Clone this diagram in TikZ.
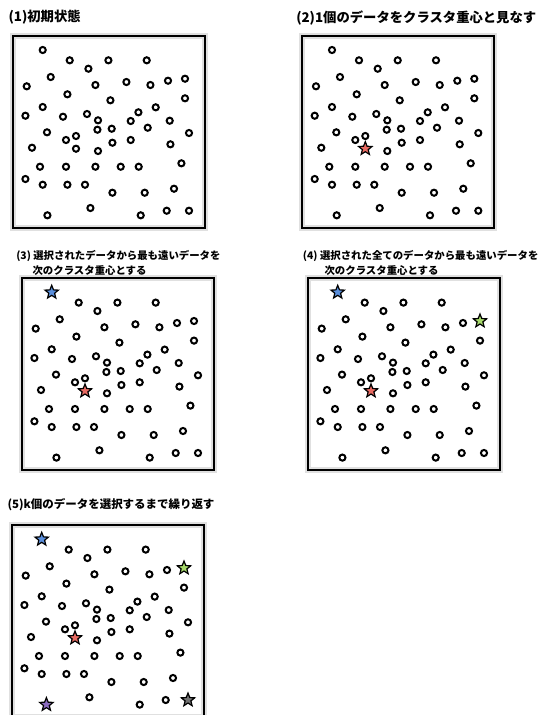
\documentclass[tikz,border=0pt]{standalone}
\usepackage{fontspec}
\usepackage{tikz}
\usetikzlibrary{shapes.geometric,shadows}
\newfontfamily\jpfont{Noto Sans CJK JP}[BoldFont={Noto Sans CJK JP Black}]
\definecolor{ClusterRed}{HTML}{E86A62}
\definecolor{ClusterBlue}{HTML}{5A8FDC}
\definecolor{ClusterGreen}{HTML}{A6D96A}
\definecolor{ClusterPurple}{HTML}{8B6BBE}
\definecolor{ClusterGrey}{HTML}{737373}

% data points, px from the top left corner of a field
\newcommand{\datapts}{30/14, 57/24.3, 75.7/32.7, 95.7/24.3, 134/24.3,
  38/41, 14/50.3, 82.7/49, 113.7/46, 137.7/49, 155.3/44.7, 172.3/42.7,
  54.7/58.3, 97.7/64.3, 172.3/62.3, 30/71, 12.7/79.7, 50.3/80.7, 74.3/78,
  85.3/84.3, 125.7/76.3, 143/71.3, 118/85, 157/84.7, 84.7/93.7, 99/92.7,
  135/91.7, 34.3/96.3, 63.3/100, 53.3/104, 176.3/97, 99.7/106.7, 118/104,
  19.3/111.7, 63.3/112.7, 85.3/115, 157.7/108.3, 27.3/130.7, 53.3/130.7,
  82.7/130.7, 108/130.7, 126/130.7, 168.7/127.3, 12.7/143, 30/148.7,
  54.7/148.7, 72.3/148.7, 99.7/156.7, 132/156.7, 161.3/152.7, 34.7/179.3,
  77.7/172, 128/179.3, 154/174.7, 176.3/174.7}

% #1 prefix, #2 indices replaced by stars
\newcommand{\datafield}[2]{%
  \draw[fieldhalo] (0,0) rectangle (192,192);
  \draw[fieldbox] (0,0) rectangle (192,192);
  \foreach \x/\y [count=\i] in \datapts {%
    \coordinate (#1-c\i) at (\x,\y);
    \def\isstar{0}%
    \foreach \s in {#2} {\ifnum\s=\i \gdef\isstar{1}\fi}%
    \ifnum\isstar=0 \node[datum] (#1-d\i) at (#1-c\i) {};\fi
  }%
}

\begin{document}
\begin{tikzpicture}[x=0.75pt, y=-0.75pt,
  % ── fields ──
  fieldbox/.style={draw=black, line width=1.6pt},
  fieldhalo/.style={draw=black!12, line width=4.5pt},
  % ── data points ──
  datum/.style={circle, draw=black, line width=1.5pt, fill=white,
    minimum size=4.6pt, inner sep=0pt,
    drop shadow={shadow xshift=0.6pt, shadow yshift=-0.7pt, opacity=0.3}},
  centroid/.style={star, star points=5, star point ratio=2.3,
    draw=black, line width=0.9pt, minimum size=10.5pt, inner sep=0pt},
  % ── titles ──
  steptitle/.style={anchor=base west, inner sep=0pt,
    font=\jpfont\bfseries\fontsize{10}{12}\selectfont},
  substep/.style={steptitle, font=\jpfont\bfseries\fontsize{7.8}{9}\selectfont},
  laststep/.style={steptitle, font=\jpfont\bfseries\fontsize{8.6}{10}\selectfont}
]
\useasboundingbox (0,0) rectangle (542,715);

%% ── (1) ──
\node[steptitle] (t1) at (8.3,21) {(1)初期状態};
\begin{scope}[shift={(12.7,36)}]
  \datafield{p1}{0}
\end{scope}

%% ── (2) ──
\node[steptitle] (t2) at (296,22) {(2)1個のデータをクラスタ重心と見なす};
\begin{scope}[shift={(302,36)}]
  \datafield{p2}{35}
  \node[centroid, fill=ClusterRed] (p2-red) at (p2-c35) {};
\end{scope}

%% ── (3) ──
\node[substep] (t3a) at (16,259.5) {(3) 選択されたデータから最も遠いデータを};
\node[substep] (t3b) at (32.3,274) {次のクラスタ重心とする};
\begin{scope}[shift={(21.7,278.3)}]
  \datafield{p3}{35,1}
  \node[centroid, fill=ClusterRed]  (p3-red)  at (p3-c35) {};
  \node[centroid, fill=ClusterBlue] (p3-blue) at (p3-c1) {};
\end{scope}

%% ── (4) ──
\node[substep] (t4a) at (302.7,259.5) {(4) 選択された全てのデータから最も遠いデータを};
\node[substep] (t4b) at (324.3,274) {次のクラスタ重心とする};
\begin{scope}[shift={(307.7,278.3)}]
  \datafield{p4}{35,1,12}
  \node[centroid, fill=ClusterRed]   (p4-red)   at (p4-c35) {};
  \node[centroid, fill=ClusterBlue]  (p4-blue)  at (p4-c1) {};
  \node[centroid, fill=ClusterGreen] (p4-green) at (p4-c12) {};
\end{scope}

%% ── (5) ──
\node[laststep] (t5) at (7.3,508.5) {(5)k個のデータを選択するまで繰り返す};
\begin{scope}[shift={(11.7,525.3)}]
  \datafield{p5}{35,1,12,51,55}
  \node[centroid, fill=ClusterRed]    (p5-red)    at (p5-c35) {};
  \node[centroid, fill=ClusterBlue]   (p5-blue)   at (p5-c1) {};
  \node[centroid, fill=ClusterGreen]  (p5-green)  at (p5-c12) {};
  \node[centroid, fill=ClusterPurple] (p5-purple) at (p5-c51) {};
  \node[centroid, fill=ClusterGrey]   (p5-grey)   at (p5-c55) {};
\end{scope}

\end{tikzpicture}
\end{document}
